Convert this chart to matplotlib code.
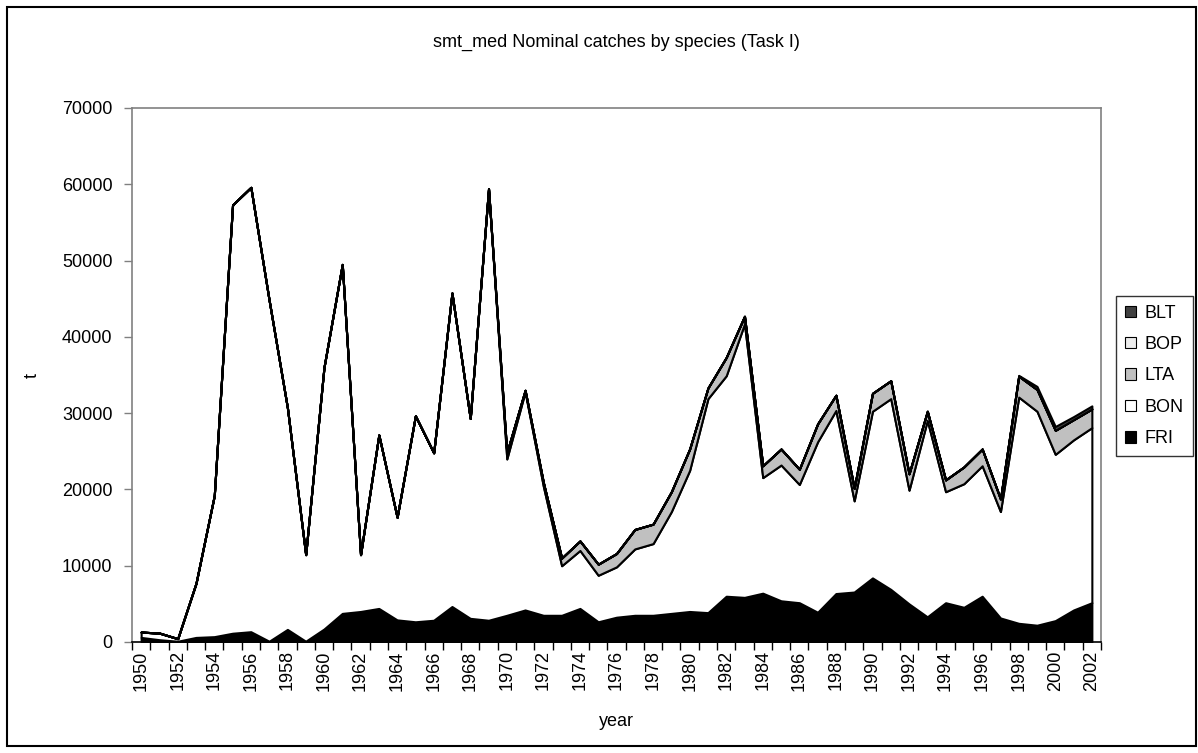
import numpy as np
import matplotlib
matplotlib.use("Agg")
import matplotlib.pyplot as plt
from matplotlib.patches import Rectangle, Patch

plt.rcParams['font.family'] = ['Liberation Sans', 'DejaVu Sans']

years = list(range(1950, 2003))

FRI = [600, 300, 100, 600, 700, 1150, 1350, 100, 1650, 100,
       1700, 3750, 4000, 4400, 2900, 2650, 2850, 4650, 3100, 2850,
       3500, 4200, 3500, 3500, 4400, 2650, 3250, 3500, 3500, 3750,
       4000, 3850, 6000, 5850, 6400, 5400, 5150, 3900, 6350, 6550,
       8400, 6900, 5000, 3300, 5150, 4550, 6000, 3150, 2450, 2200,
       2800, 4200, 5150]
BON = [700, 870, 340, 7100, 18500, 56150, 58250, 44700, 29050, 11350,
       34300, 45750, 7450, 22750, 13450, 27000, 21950, 41100, 26200, 56550,
       20500, 28600, 16900, 6500, 7600, 6100, 6600, 8700, 9400, 13350,
       18500, 28050, 28900, 35850, 15150, 17800, 15500, 22350, 24000, 11950,
       21850, 25000, 14900, 25750, 14550, 16200, 17100, 13950, 29650, 28050,
       21800, 22300, 22950]
LTA = [0, 0, 0, 0, 0, 0, 0, 0, 0, 0,
       0, 0, 0, 0, 0, 0, 0, 0, 0, 0,
       800, 200, 500, 1000, 1250, 1450, 1750, 2550, 2550, 2600,
       2800, 1400, 2400, 1000, 1550, 2100, 2000, 2350, 2000, 1650,
       2350, 2350, 2150, 1200, 1550, 2200, 2200, 1650, 2750, 2850,
       3150, 2650, 2450]
BOP = [0] * 53
BLT = [0] * 48 + [100, 400, 500, 400, 400]

series_names = ["FRI", "BON", "LTA", "BOP", "BLT"]
series_colors = ["#000000", "#ffffff", "#c0c0c0", "#ececec", "#404040"]

fig = plt.figure(figsize=(11.98, 7.53), dpi=100)
ax = fig.add_axes([132/1198, 1 - 642/753, (1101-132)/1198, (642-108)/753])

x = np.arange(len(years))
ax.stackplot(x, FRI, BON, LTA, BOP, BLT, colors=series_colors,
             edgecolor="black", linewidth=1.5)

ax.set_xlim(-0.5, len(years) - 0.5)
ax.set_ylim(0, 70000)

ax.set_xticks(x[::2])
ax.set_xticklabels([str(y) for y in years[::2]], rotation=90, fontsize=13)
ax.set_xticks(np.arange(-0.5, len(years)), minor=True)
ax.tick_params(axis='x', which='major', length=0, pad=6)
ax.tick_params(axis='x', which='minor', length=6, width=1, color='black', direction='out')

ax.set_yticks(np.arange(0, 70001, 10000))
ax.set_yticklabels([str(v) for v in range(0, 70001, 10000)], fontsize=13)
ax.tick_params(axis='y', length=6, width=1, color='#808080', direction='out', pad=8)

for s in ['left', 'top', 'right']:
    ax.spines[s].set_color('#808080')
    ax.spines[s].set_linewidth(1.2)
ax.spines['bottom'].set_color('black')
ax.spines['bottom'].set_linewidth(1.2)

ax.set_xlabel("year", fontsize=13, labelpad=16)
ax.set_ylabel("t", fontsize=13)
ax.yaxis.set_label_coords(-0.094, 0.5)

fig.text(0.5 * (132 + 1101) / 1198, 1 - 42/753,
         "smt_med Nominal catches by species (Task I)",
         ha='center', va='center', fontsize=13)

handles = [Patch(facecolor=c, edgecolor='black', linewidth=0.8)
           for c in series_colors]
leg = fig.legend(handles[::-1], series_names[::-1], loc='center',
                 bbox_to_anchor=((1120 + 1189) / 2 / 1198, 1 - 376/753),
                 fontsize=13, frameon=True, fancybox=False,
                 edgecolor='black', handlelength=0.6, handleheight=0.6,
                 handletextpad=0.45, labelspacing=0.8, borderpad=0.5,
                 borderaxespad=0)
leg.get_frame().set_linewidth(1.0)

fig.patches.append(Rectangle((7/1198, 1 - 746/753), (1196-7)/1198, (746-7)/753,
                             transform=fig.transFigure, fill=False,
                             edgecolor='black', linewidth=1.5))

fig.savefig("out.png", dpi=100)
